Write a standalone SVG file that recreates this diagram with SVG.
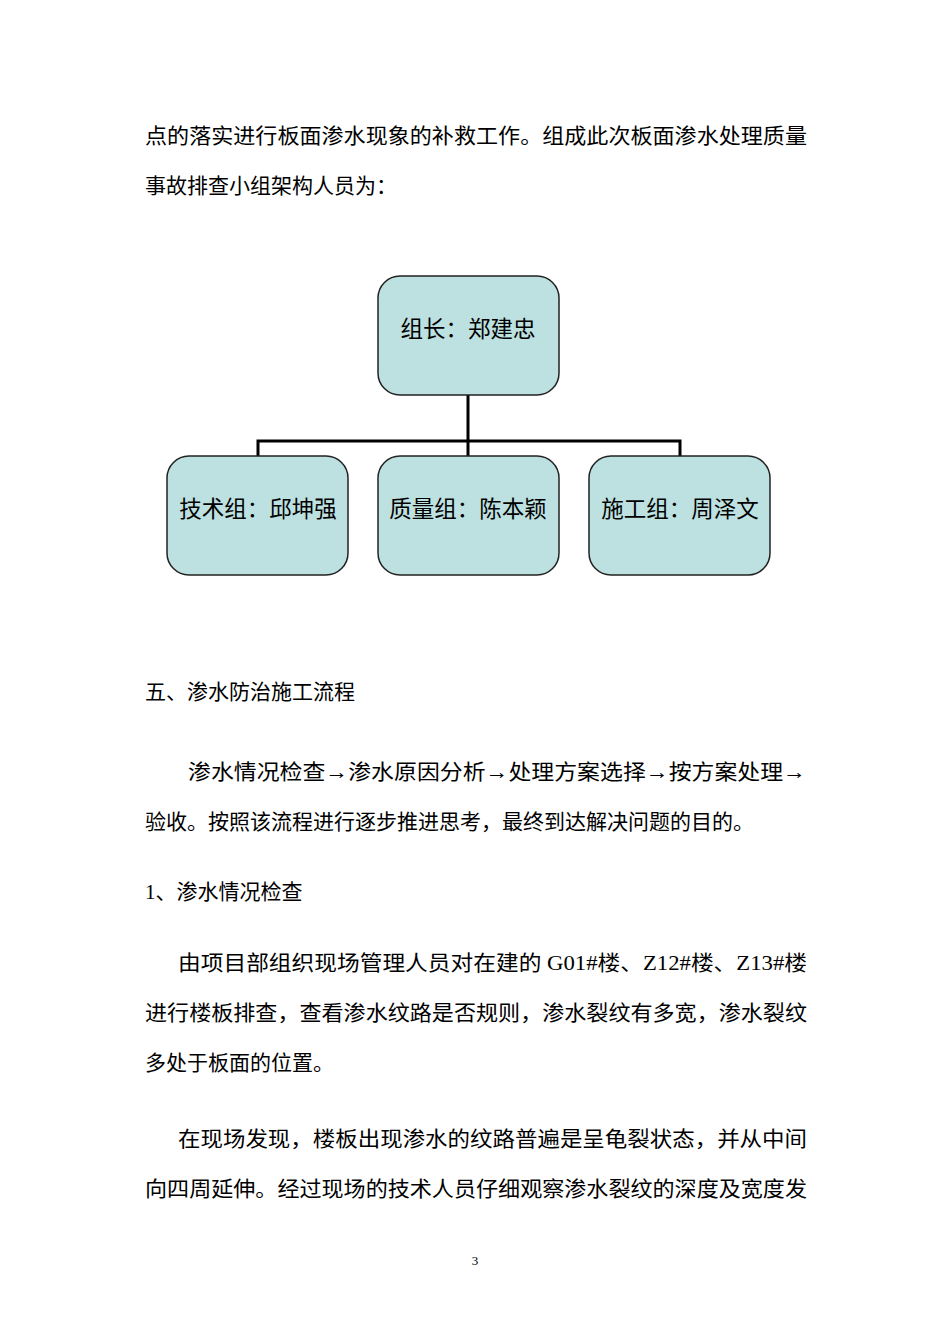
<svg xmlns="http://www.w3.org/2000/svg" width="950" height="1344" viewBox="0 0 950 1344">
<style>
text{font-family:"Liberation Serif","Noto Sans CJK SC",serif;font-size:21px;fill:#000}
.n rect{fill:#bde0e1;stroke:#222;stroke-width:1.5}
.n text{text-anchor:middle;font-size:22.5px}
</style>
<rect width="950" height="1344" fill="#fff"/>
<text x="145" y="143" textLength="662" lengthAdjust="spacingAndGlyphs">点的落实进行板面渗水现象的补救工作。组成此次板面渗水处理质量</text>
<text x="145" y="193">事故排查小组架构人员为：</text>
<g id="connectors" fill="none" stroke="#000" stroke-width="3">
<path d="M468 395V441M258 456V441H680V456M468 441V456"/>
</g>
<g id="leader" class="n"><rect x="378" y="276" width="181" height="119" rx="22"/><text x="468" y="337">组长：郑建忠</text></g>
<g id="tech" class="n"><rect x="167" y="456" width="181" height="119" rx="22"/><text x="258" y="517">技术组：邱坤强</text></g>
<g id="quality" class="n"><rect x="378" y="456" width="181" height="119" rx="22"/><text x="468" y="517">质量组：陈本颖</text></g>
<g id="construct" class="n"><rect x="589" y="456" width="181" height="119" rx="22"/><text x="680" y="517">施工组：周泽文</text></g>
<text x="145" y="699">五、渗水防治施工流程</text>
<text x="188" y="779" textLength="618" lengthAdjust="spacingAndGlyphs">渗水情况检查→渗水原因分析→处理方案选择→按方案处理→</text>
<text x="145" y="829">验收。按照该流程进行逐步推进思考，最终到达解决问题的目的。</text>
<text x="145" y="899">1、渗水情况检查</text>
<text x="178" y="970" textLength="629" lengthAdjust="spacingAndGlyphs">由项目部组织现场管理人员对在建的 G01#楼、Z12#楼、Z13#楼</text>
<text x="145" y="1020" textLength="662" lengthAdjust="spacingAndGlyphs">进行楼板排查，查看渗水纹路是否规则，渗水裂纹有多宽，渗水裂纹</text>
<text x="145" y="1070">多处于板面的位置。</text>
<text x="178" y="1146" textLength="629" lengthAdjust="spacingAndGlyphs">在现场发现，楼板出现渗水的纹路普遍是呈龟裂状态，并从中间</text>
<text x="145" y="1196" textLength="662" lengthAdjust="spacingAndGlyphs">向四周延伸。经过现场的技术人员仔细观察渗水裂纹的深度及宽度发</text>
<text x="475" y="1265" style="font-size:13px" text-anchor="middle">3</text>
</svg>
